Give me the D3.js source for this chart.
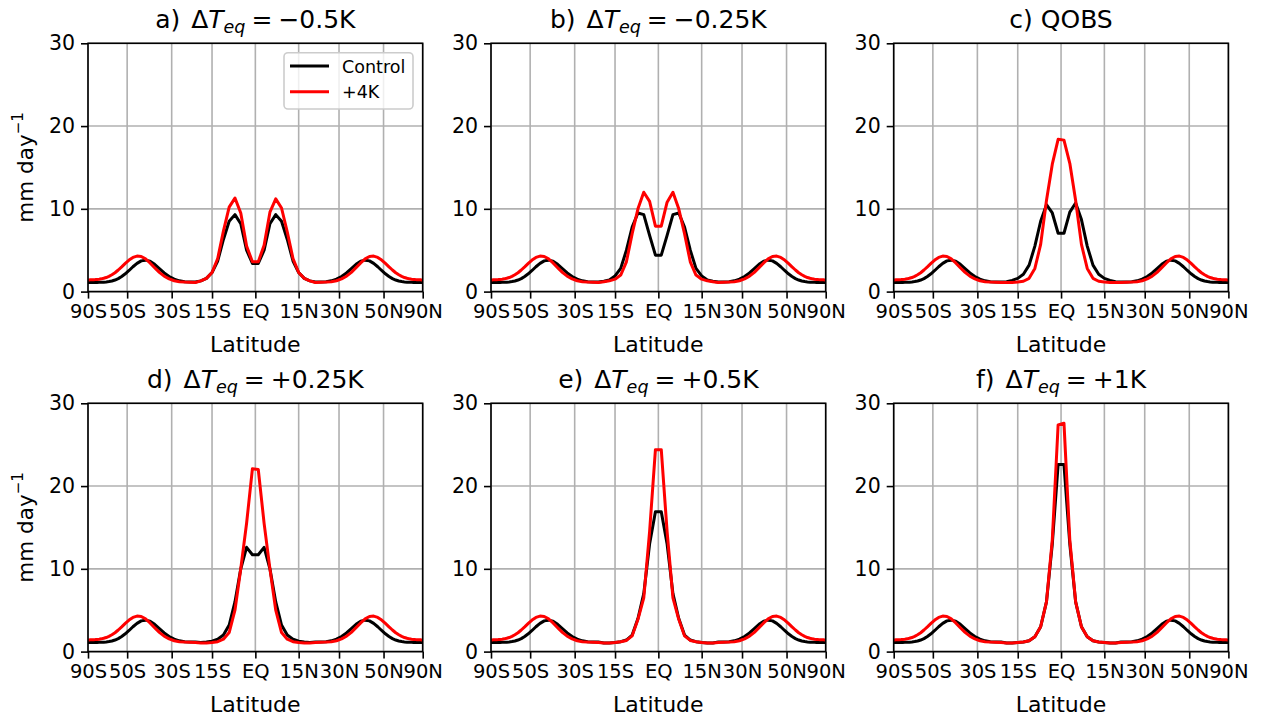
<!DOCTYPE html>
<html><head><meta charset="utf-8">
<script src="https://cdn.jsdelivr.net/npm/d3@7"></script>
<style>
html,body{margin:0;padding:0;background:#fff;}
svg{display:block;font-family:"DejaVu Sans",sans-serif;}
</style></head><body>
<svg id="chart" width="1261" height="717"></svg>
<script>
// ---------- data ----------
const lats = [-89,-87,-85,-83,-81,-79,-77,-75,-73,-71,-69,-67,-65,-63,-61,-59,-57,-55,-53,-51,-49,-47,-45,-43,-41,-39,-37,-35,-33,-31,-29,-27,-25,-23,-21,
  -19,-17,-15,-13,-11,-9,-7,-5,-3,-1,1,3,5,7,9,11,13,15,17,19,
  21,23,25,27,29,31,33,35,37,39,41,43,45,47,49,51,53,55,57,59,61,63,65,67,69,71,73,75,77,79,81,83,85,87,89];
const latTicks = [-90,-50,-30,-15,0,15,30,50,90];
const latTickLabels = ["90S","50S","30S","15S","EQ","15N","30N","50N","90N"];
const yTicks = [0,10,20,30];
const seriesNames = ["Control","+4K"];

// extratropical parts (89S..21S and 21N..89N)
const ctrlSH = [1.1,1.1,1.1,1.1,1.1,1.1,1.1,1.1,1.11,1.11,1.12,1.12,1.14,1.17,1.21,1.28,1.4,1.57,1.82,2.15,2.55,3.0,3.41,3.71,3.8,3.68,3.3,2.78,2.25,1.82,1.5,1.3,1.2,1.16,1.15];
const ctrlNH = [1.15,1.16,1.2,1.3,1.5,1.82,2.25,2.78,3.3,3.68,3.8,3.71,3.41,3.0,2.55,2.15,1.82,1.57,1.4,1.28,1.21,1.17,1.14,1.12,1.12,1.11,1.11,1.1,1.1,1.1,1.1,1.1,1.1,1.1,1.1];
const warmSH = [1.41,1.41,1.41,1.41,1.42,1.42,1.43,1.44,1.45,1.47,1.5,1.54,1.61,1.7,1.84,2.03,2.28,2.61,2.99,3.41,3.81,4.13,4.29,4.24,3.95,3.46,2.89,2.33,1.86,1.53,1.31,1.2,1.15,1.12,1.1];
const warmNH = [1.1,1.12,1.15,1.2,1.31,1.53,1.86,2.33,2.89,3.46,3.95,4.24,4.29,4.13,3.81,3.41,2.99,2.61,2.28,2.03,1.84,1.7,1.61,1.54,1.5,1.47,1.45,1.44,1.43,1.42,1.42,1.41,1.41,1.41,1.41];

// tropical parts (19S..19N)
const ctrlTropA = [1.3,1.6,2.3,3.7,6.3,8.5,9.3,8.2,5.0,3.4, 3.4,5.0,8.2,9.3,8.5,6.3,3.7,2.3,1.6,1.3];
const warmTropA = [1.3,1.6,2.3,4.0,7.3,10.2,11.3,9.5,5.5,3.6, 3.6,5.6,9.6,11.2,10.1,7.2,4.0,2.3,1.6,1.3];
const ctrlTropB = [1.25,1.4,1.9,2.8,5.0,7.8,9.5,9.3,6.8,4.4, 4.4,6.8,9.3,9.5,7.8,5.0,2.8,1.9,1.4,1.25];
const warmTropB = [1.2,1.3,1.5,2.0,3.6,7.0,10.0,12.0,10.9,7.9, 7.9,10.8,12.0,10.0,7.0,3.6,2.0,1.5,1.3,1.2];
const ctrlTropC = [1.2,1.35,1.6,2.1,3.2,5.5,8.5,10.5,9.5,7.05, 7.05,9.6,10.7,8.7,5.5,3.2,2.1,1.6,1.35,1.2];
const warmTropC = [1.1,1.1,1.15,1.25,1.6,2.8,5.7,11.0,15.4,18.4, 18.3,15.5,11.0,5.7,2.8,1.6,1.25,1.15,1.1,1.1];
const ctrlTropD = [1.1,1.15,1.25,1.5,2.0,3.2,6.0,10.0,12.6,11.7, 11.7,12.6,10.0,6.0,3.2,2.0,1.5,1.25,1.15,1.1];
const warmTropD = [1.05,1.05,1.1,1.2,1.5,2.3,5.0,10.0,15.5,22.1, 22.0,15.5,10.0,5.0,2.3,1.5,1.2,1.1,1.05,1.05];
const ctrlTropE = [1.05,1.05,1.1,1.2,1.4,2.0,4.0,7.0,13.0,16.9, 16.9,13.0,7.0,4.0,2.0,1.4,1.2,1.1,1.05,1.05];
const warmTropE = [1.05,1.05,1.1,1.2,1.35,1.9,3.9,6.5,14.5,24.4, 24.4,14.5,6.5,3.9,1.9,1.35,1.2,1.1,1.05,1.05];
const ctrlTropF = [1.05,1.05,1.1,1.15,1.3,1.8,3.0,6.0,13.0,22.6, 22.6,13.0,6.0,3.0,1.8,1.3,1.15,1.1,1.05,1.05];
const warmTropF = [1.05,1.05,1.1,1.15,1.3,1.8,3.0,6.0,13.5,27.4, 27.6,13.5,6.0,3.0,1.8,1.3,1.15,1.1,1.05,1.05];

const panelLetters = ["a)","b)","c)","d)","e)","f)"];
const panelDeltas = ["\u22120.5K","\u22120.25K",null,"+0.25K","+0.5K","+1K"];
const ctrlTrop = [ctrlTropA,ctrlTropB,ctrlTropC,ctrlTropD,ctrlTropE,ctrlTropF];
const warmTrop = [warmTropA,warmTropB,warmTropC,warmTropD,warmTropE,warmTropF];

// ---------- layout ----------
const colX = [88, 491, 893.7];
const rowY = [43.3, 403.3];
const pw = 334.7, ph = 248.3;
const rad = Math.PI/180;
const colors = ["#000000", "#ff0000"];
const gridColor = "#b0b0b0";

const svg = d3.select("#chart");

panelLetters.forEach((letter, i) => {
  const x0 = colX[i % 3], y0 = rowY[Math.floor(i / 3)];
  const x = d3.scaleLinear().domain([-1, 1]).range([x0, x0 + pw]);
  const y = d3.scaleLinear().domain([0, 30]).range([y0 + ph, y0]);
  const g = svg.append("g");
  const sx = d => x(Math.sin(d * rad));

  // grid
  g.selectAll(".vg").data(latTicks).join("line")
    .attr("x1", d => sx(d)).attr("x2", d => sx(d))
    .attr("y1", y0).attr("y2", y0 + ph)
    .attr("stroke", gridColor).attr("stroke-width", 1.6);
  g.selectAll(".hg").data(yTicks).join("line")
    .attr("x1", x0).attr("x2", x0 + pw)
    .attr("y1", d => y(d)).attr("y2", d => y(d))
    .attr("stroke", gridColor).attr("stroke-width", 1.6);

  // series
  const series = [
    [...ctrlSH, ...ctrlTrop[i], ...ctrlNH],
    [...warmSH, ...warmTrop[i], ...warmNH]
  ];
  const line = d3.line().x((d, k) => sx(lats[k])).y(d => y(d));
  series.forEach((vals, s) => {
    g.append("path").datum(vals)
      .attr("d", line)
      .attr("fill", "none")
      .attr("stroke", colors[s])
      .attr("stroke-width", 3)
      .attr("stroke-linejoin", "round");
  });

  // axes
  const xAxis = d3.axisBottom(x)
    .tickValues(latTicks.map(d => Math.sin(d * rad)))
    .tickFormat((d, k) => latTickLabels[k])
    .tickSize(7).tickPadding(6);
  const gx = g.append("g").attr("transform", `translate(0,${y0 + ph})`).call(xAxis);
  const yAxis = d3.axisLeft(y).tickValues(yTicks).tickSize(7).tickPadding(6);
  const gy = g.append("g").attr("transform", `translate(${x0},0)`).call(yAxis);
  [gx, gy].forEach((a, ai) => {
    a.select(".domain").remove();
    a.selectAll(".tick line").attr("stroke", "#000").attr("stroke-width", 1.6);
    a.selectAll(".tick text").attr("fill", "#000").style("font-size", ai === 0 ? "19.5px" : "20.5px")
      .style("font-family", "DejaVu Sans");
  });

  // frame
  g.append("rect").attr("x", x0).attr("y", y0).attr("width", pw).attr("height", ph)
    .attr("fill", "none").attr("stroke", "#000").attr("stroke-width", 1.6);

  // title
  const t = g.append("text").attr("x", x0 + pw / 2).attr("y", y0 - 15)
    .attr("text-anchor", "middle").style("font-size", "25px").attr("fill", "#000");
  if (panelDeltas[i] === null) {
    t.text(letter + " QOBS");
  } else {
    t.append("tspan").text(letter + " ");
    t.append("tspan").attr("dx", 3).text("\u0394");
    t.append("tspan").attr("font-style", "italic").text("T");
    t.append("tspan").attr("font-style", "italic").style("font-size", "17.5px").attr("dy", 5).text("eq");
    t.append("tspan").attr("dy", -5).attr("dx", 6).text("=");
    t.append("tspan").attr("dx", 6).text(panelDeltas[i]);
  }

  // x label
  g.append("text").attr("x", x0 + pw / 2).attr("y", y0 + ph + 60)
    .attr("text-anchor", "middle").style("font-size", "22px").text("Latitude");

  // y label (first column only)
  if (i % 3 === 0) {
    const yl = g.append("text")
      .attr("transform", `translate(33,${y0 + ph / 2}) rotate(-90)`)
      .attr("text-anchor", "middle").style("font-size", "21.5px");
    yl.append("tspan").text("mm day");
    yl.append("tspan").style("font-size", "15px").attr("dy", -10).text("\u22121");
  }

  // legend (panel a)
  if (i === 0) {
    const lg = g.append("g");
    lg.append("rect").attr("x", 284).attr("y", 52.7).attr("width", 129).attr("height", 56.3)
      .attr("rx", 4).attr("fill", "#fff").attr("fill-opacity", 0.8)
      .attr("stroke", "#cccccc").attr("stroke-width", 1.6);
    seriesNames.forEach((nm, s) => {
      const ly = 66 + s * 25.7;
      lg.append("line").attr("x1", 290).attr("x2", 329).attr("y1", ly).attr("y2", ly)
        .attr("stroke", colors[s]).attr("stroke-width", 3);
      lg.append("text").attr("x", 342).attr("y", ly + 6.5).style("font-size", "17.5px").text(nm);
    });
  }
});
</script>
</body></html>
